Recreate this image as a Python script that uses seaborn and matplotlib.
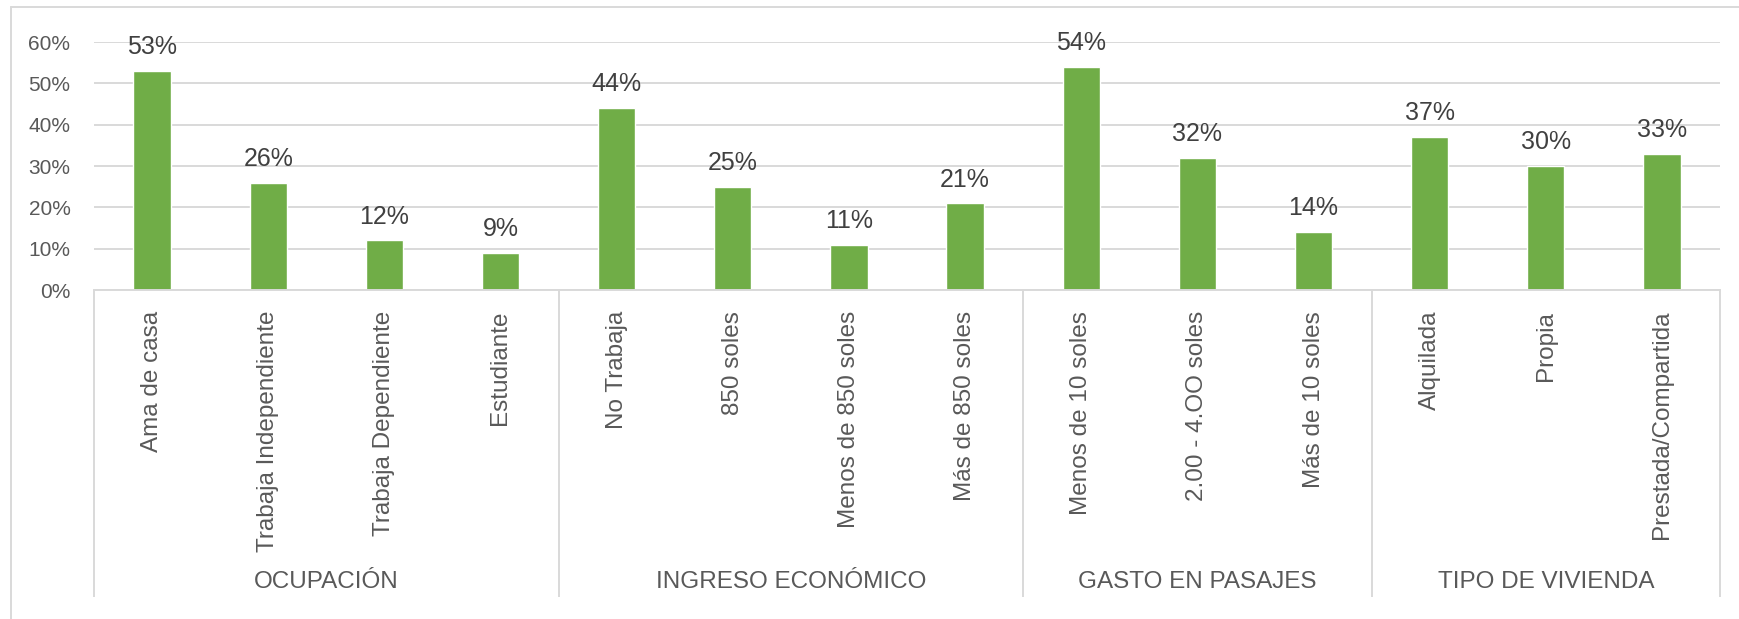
import matplotlib
matplotlib.use("Agg")
import matplotlib.pyplot as plt
from matplotlib.lines import Line2D
from matplotlib.ticker import FuncFormatter, MultipleLocator
import seaborn as sns
import pandas as pd

# Survey results, grouped by dimension
categories = [
    "Ama de casa", "Trabaja Independiente", "Trabaja Dependiente", "Estudiante",
    "No Trabaja", "850 soles", "Menos de 850 soles", "Más de 850 soles",
    "Menos de 10 soles", "2.00 - 4.OO soles", "Más de 10 soles",
    "Alquilada", "Propia", "Prestada/Compartida",
]
values = [53, 26, 12, 9, 44, 25, 11, 21, 54, 32, 14, 37, 30, 33]
groups = ["OCUPACIÓN", "INGRESO ECONÓMICO", "GASTO EN PASAJES", "TIPO DE VIVIENDA"]
group_sizes = [4, 4, 3, 3]

BAR = "#70AD47"
GRID = "#d9d9d9"
TXT = "#595959"
LBL = "#404040"

sns.set_style("white")
plt.rcParams["font.family"] = ["Liberation Sans", "DejaVu Sans"]

df = pd.DataFrame({"categoria": categories, "valor": values})

W, H = 1739, 619
fig = plt.figure(figsize=(W / 100, H / 100), dpi=100)
ax_left, ax_right = 94 / W, 1720 / W
ax_bottom = (H - 290) / H
ax_top = (H - 42) / H
ax = fig.add_axes([ax_left, ax_bottom, ax_right - ax_left, ax_top - ax_bottom])
ax_h_px = 290 - 42

sns.barplot(data=df, x="categoria", y="valor", order=categories,
            color=BAR, width=0.32, saturation=1, ax=ax)

ax.set_ylim(0, 60)
ax.set_xlim(-0.5, len(categories) - 0.5)
ax.yaxis.set_major_locator(MultipleLocator(10))
ax.yaxis.set_major_formatter(FuncFormatter(lambda v, _: f"{v:.0f}%"))
ax.set_xlabel("")
ax.set_ylabel("")
ax.yaxis.grid(True, color=GRID, linewidth=1.4)
ax.set_axisbelow(True)
for s in ["top", "right", "left"]:
    ax.spines[s].set_visible(False)
ax.spines["bottom"].set_color(GRID)
ax.spines["bottom"].set_linewidth(1.4)

ax.tick_params(axis="y", length=0, pad=17, labelsize=15, labelcolor=TXT)
ax.tick_params(axis="x", length=0, pad=15, labelsize=17.5, labelcolor=TXT)
for lab in ax.get_xticklabels():
    lab.set_rotation(90)
    lab.set_va("top")
    lab.set_ha("center")

# value labels above each bar
for i, v in enumerate(values):
    ax.annotate(f"{v}%", (i, v), xytext=(0, 12), textcoords="offset points",
                ha="center", va="baseline", fontsize=18, color=LBL)

# group separators and group names below the category labels
trans = ax.get_xaxis_transform()
y_sep = -(597 - 290) / ax_h_px
y_grp = -(582 - 290) / ax_h_px
edges = [-0.5]
for n in group_sizes:
    edges.append(edges[-1] + n)
for e in edges:
    ax.plot([e, e], [0, y_sep], transform=trans, color=GRID, lw=1.4,
            clip_on=False, solid_capstyle="butt")
for g, a, b in zip(groups, edges[:-1], edges[1:]):
    ax.text((a + b) / 2, y_grp, g, transform=trans, ha="center", va="center",
            fontsize=17.5, color=TXT)

# chart frame
fx = 11 / W
fy = 1 - 7 / H
fig.add_artist(Line2D([fx, fx], [0, fy], color=GRID, lw=1.4))
fig.add_artist(Line2D([fx, 1], [fy, fy], color=GRID, lw=1.4))

fig.savefig("out.png", dpi=100, facecolor="white")
